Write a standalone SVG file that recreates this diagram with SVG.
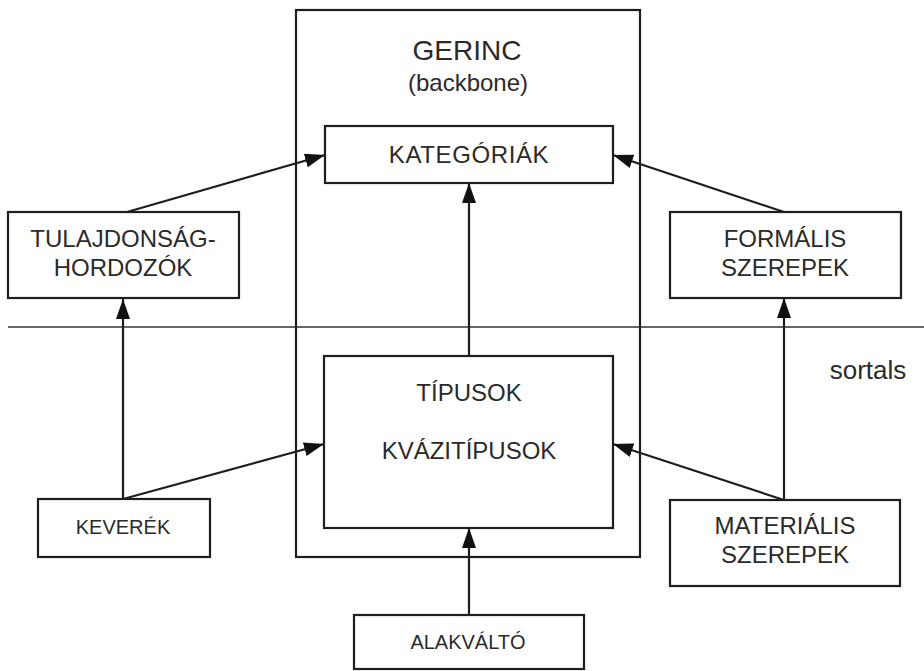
<svg xmlns="http://www.w3.org/2000/svg" width="924" height="671" viewBox="0 0 924 671">
<style>
.box{fill:none;stroke:#1e1e1e;stroke-width:2.2}
.t{font-family:"Liberation Sans",Arial,sans-serif;fill:#2a2a2a;text-anchor:middle}
.l{font-size:24px}
.s{font-size:20px}
.c{stroke:#1e1e1e;stroke-width:2.2;fill:none}
</style>
<defs>
<marker id="ah" markerUnits="userSpaceOnUse" markerWidth="20" markerHeight="14" refX="20" refY="7" orient="auto">
<path d="M0,0 L20,7 L0,14 z" fill="#111"/>
</marker>
</defs>
<rect width="924" height="671" fill="#fff"/>
<g id="separator">
<line x1="8" y1="327" x2="924" y2="327" stroke="#333" stroke-width="1.5"/>
<text class="t" x="868" y="379" style="font-size:26px">sortals</text>
</g>
<g id="gerinc">
<rect class="box" x="296" y="10" width="344" height="547"/>
<text class="t" x="467" y="60" style="font-size:28px">GERINC</text>
<text class="t" x="468" y="91" style="font-size:24px">(backbone)</text>
</g>
<g id="kategoriak">
<rect class="box" x="325" y="126" width="288" height="57"/>
<text class="t l" x="469" y="163" style="letter-spacing:0.6px">KATEGÓRIÁK</text>
</g>
<g id="tulajdonsag">
<rect class="box" x="8" y="212" width="231" height="86"/>
<text class="t l" x="123" y="247">TULAJDONSÁG-</text>
<text class="t l" x="123" y="276">HORDOZÓK</text>
</g>
<g id="formalis">
<rect class="box" x="670" y="212" width="231" height="86"/>
<text class="t l" x="785" y="247">FORMÁLIS</text>
<text class="t l" x="785" y="276">SZEREPEK</text>
</g>
<g id="tipusok">
<rect class="box" x="324" y="356" width="289" height="172"/>
<text class="t l" x="469" y="401">TÍPUSOK</text>
<text class="t l" x="469" y="459">KVÁZITÍPUSOK</text>
</g>
<g id="keverek">
<rect class="box" x="38" y="499" width="172" height="58"/>
<text class="t s" x="123" y="534">KEVERÉK</text>
</g>
<g id="materialis">
<rect class="box" x="670" y="500" width="230" height="86"/>
<text class="t l" x="785" y="534">MATERIÁLIS</text>
<text class="t l" x="785" y="563">SZEREPEK</text>
</g>
<g id="alakvalto">
<rect class="box" x="354" y="615" width="230" height="54"/>
<text class="t s" x="468" y="649">ALAKVÁLTÓ</text>
</g>
<g id="connectors">
<path class="c" d="M123,499 L123,299" marker-end="url(#ah)"/>
<path class="c" d="M123,499 L324,444" marker-end="url(#ah)"/>
<path class="c" d="M127,212 L325,155" marker-end="url(#ah)"/>
<path class="c" d="M784,212 L613,155" marker-end="url(#ah)"/>
<path class="c" d="M469,356 L469,183" marker-end="url(#ah)"/>
<path class="c" d="M469,615 L469,528" marker-end="url(#ah)"/>
<path class="c" d="M784,500 L613,444" marker-end="url(#ah)"/>
<path class="c" d="M784,500 L784,298" marker-end="url(#ah)"/>
</g>
</svg>
